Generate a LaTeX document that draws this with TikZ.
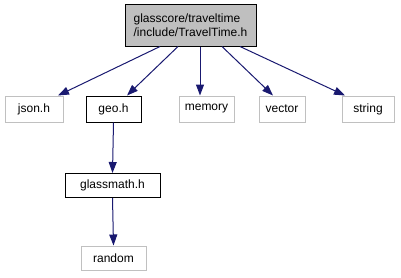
\documentclass[tikz,border=0pt]{standalone}
\usepackage{fontspec}
\setmainfont{Liberation Sans}
\usetikzlibrary{arrows.meta}
\definecolor{edgeblue}{HTML}{191970}
\definecolor{boxgray}{HTML}{BFBFBF}
\definecolor{sysgray}{HTML}{C0C0C0}
\begin{document}
\begin{tikzpicture}[x=1pt,y=-1pt,
  every node/.style={font=\fontsize{12}{14}\selectfont, inner sep=0pt, minimum height=26pt},
  sysfile/.style={draw=sysgray, line width=1pt},
  localfile/.style={draw=black, line width=1pt},
  rootfile/.style={draw=black, fill=boxgray, line width=1pt, align=left, minimum height=42pt},
  dep/.style={draw=edgeblue, line width=1pt, -{Triangle[length=11pt,width=8pt]}}]
\useasboundingbox (0,0) rectangle (401,277);
% header under documentation
\node[rootfile, minimum width=131pt] (top) at (190.5,25) {glasscore/traveltime\\/include/TravelTime.h};
% direct includes
\node[sysfile, minimum width=58pt] (json) at (34,109) {json.h};
\node[localfile, minimum width=55pt] (geo) at (113.5,109) {geo.h};
\node[sysfile, minimum width=55pt] (memory) at (206.5,109) {memory};
\node[sysfile, minimum width=46pt] (vector) at (282,109) {vector};
\node[sysfile, minimum width=52pt] (string) at (368,109) {string};
% indirect includes
\node[localfile, minimum width=95pt, minimum height=24pt] (glassmath) at (112.5,185.5) {glassmath.h};
\node[sysfile, minimum width=65pt, minimum height=24pt] (random) at (113.5,258) {random};
% include edges
\draw[dep] ([xshift=-30.5pt]top.south) -- ([xshift=24pt]json.north);
\draw[dep] ([xshift=-12.5pt]top.south) -- ([xshift=13.5pt]geo.north);
\draw[dep] ([xshift=9.5pt]top.south) -- ([xshift=-6.5pt]memory.north);
\draw[dep] ([xshift=31.5pt]top.south) -- ([xshift=-9pt]vector.north);
\draw[dep] ([xshift=49.5pt]top.south) -- ([xshift=-23pt]string.north);
\draw[dep] (geo.south) -- (glassmath.north);
\draw[dep] (glassmath.south) -- (random.north);
\end{tikzpicture}
\end{document}
